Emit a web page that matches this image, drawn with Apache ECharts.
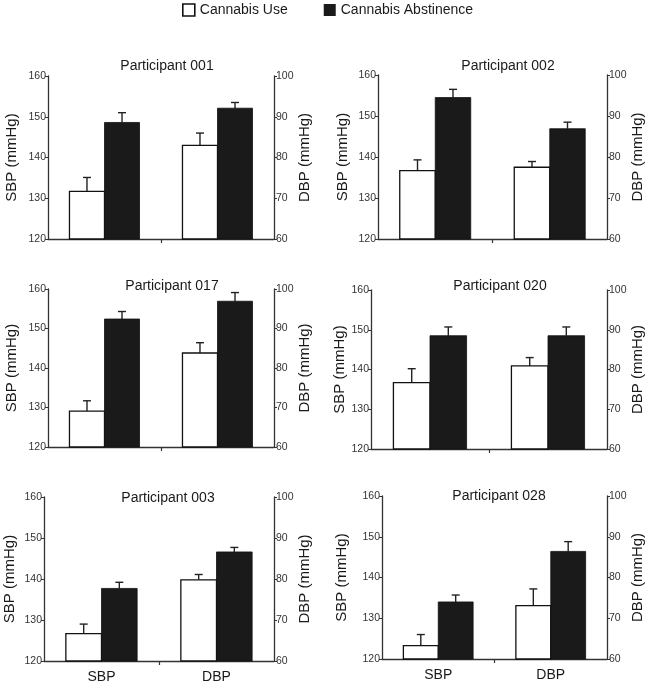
<!DOCTYPE html>
<html>
<head>
<meta charset="utf-8">
<script src="https://cdn.jsdelivr.net/npm/echarts@6/dist/echarts.min.js"></script>
<style>
html,body{margin:0;padding:0;background:#fff;}
#chart{width:647px;height:685px;}
</style>
</head>
<body>
<div id="chart"></div>
<script>
// ---- data ----
const categories = ['SBP', 'DBP'];
const participants = ['Participant 001', 'Participant 002', 'Participant 017', 'Participant 020', 'Participant 003', 'Participant 028'];
const conditions = ['Cannabis Use', 'Cannabis Abstinence'];
const sbpTicks = [120, 160, 10];
const dbpTicks = [60, 100, 10];
// SBP (mmHg), left axis
const useSBP = [131.7, 136.7, 129.1, 136.7, 126.7, 123.3];
const useSBPErr = [3.4, 2.6, 2.6, 3.5, 2.3, 2.7];
const abstSBP = [148.6, 154.5, 152.4, 148.5, 137.7, 134.0];
const abstSBPErr = [2.4, 2.0, 1.9, 2.2, 1.5, 1.7];
// DBP (mmHg), right axis
const useDBP = [83.0, 77.5, 83.8, 80.9, 79.8, 73.1];
const useDBPErr = [3.0, 1.4, 2.6, 2.1, 1.3, 4.1];
const abstDBP = [92.1, 86.9, 96.9, 88.5, 86.6, 86.4];
const abstDBPErr = [1.4, 1.6, 2.2, 2.2, 1.1, 2.4];

// ---- layout (pixels) ----
const grids = [
  {left: 48, top: 76, width: 226, height: 163, title: [162, 62], sbpGap: 29, dbpGap: 22},
  {left: 378, top: 75, width: 229, height: 164, title: [503, 62], sbpGap: 28, dbpGap: 22},
  {left: 48, top: 289, width: 226, height: 158, title: [167, 282], sbpGap: 29, dbpGap: 22},
  {left: 371, top: 290, width: 236, height: 159, title: [495, 282], sbpGap: 24, dbpGap: 21},
  {left: 44, top: 497, width: 230, height: 164, title: [163, 494], sbpGap: 27, dbpGap: 20},
  {left: 382, top: 496, width: 225, height: 163, title: [494, 492], sbpGap: 33, dbpGap: 22}
];
const FONT = '"Liberation Sans", Arial, Helvetica, sans-serif';
const BAR_FRAC = 0.31;
const fills = ['#ffffff', '#1a1a1a'];

function makeRender(slot) {
  return function (params, api) {
    const val = api.value(1);
    const err = api.value(2);
    const band = api.size([1, 0])[0];
    const w = band * BAR_FRAC;
    const pTop = api.coord([api.value(0), val]);
    const pErr = api.coord([api.value(0), val + err]);
    const cs = params.coordSys;
    const bottom = cs.y + cs.height;
    const x0 = slot === 0 ? pTop[0] - w : pTop[0];
    const cx = x0 + w / 2;
    const lineStyle = {stroke: '#222', lineWidth: 1.4};
    return {
      type: 'group',
      children: [
        {type: 'line', shape: {x1: cx, y1: pTop[1], x2: cx, y2: pErr[1]}, style: lineStyle},
        {type: 'line', shape: {x1: cx - 4, y1: pErr[1], x2: cx + 4, y2: pErr[1]}, style: lineStyle},
        {type: 'rect', shape: {x: x0, y: pTop[1], width: w, height: bottom - pTop[1]},
         style: {fill: fills[slot], stroke: '#111', lineWidth: slot === 0 ? 1.3 : 0.8}}
      ]
    };
  };
}

const option = {
  backgroundColor: '#fff',
  animation: false,
  textStyle: {fontFamily: FONT},
  legend: {
    left: 182, top: 3, padding: 0, itemWidth: 12, itemHeight: 12, itemGap: 36,
    icon: 'rect', selectedMode: false,
    textStyle: {fontSize: 14, color: '#1a1a1a', fontFamily: FONT},
    data: [
      {name: conditions[0], itemStyle: {color: '#fff', borderColor: '#111', borderWidth: 1.6}},
      {name: conditions[1], itemStyle: {color: '#1a1a1a', borderColor: '#1a1a1a', borderWidth: 0}}
    ]
  },
  title: [], grid: [], xAxis: [], yAxis: [], series: []
};

grids.forEach(function (g, i) {
  const bottomRow = i >= 4;
  option.title.push({
    text: participants[i], left: g.title[0], top: g.title[1] - 8, textAlign: 'center',
    textStyle: {fontSize: 14, fontWeight: 'normal', color: '#1a1a1a', fontFamily: FONT}
  });
  option.grid.push({left: g.left, top: g.top, width: g.width, height: g.height, containLabel: false});
  option.xAxis.push({
    type: 'category', gridIndex: i, data: categories,
    axisLine: {lineStyle: {color: '#333', width: 1.3}},
    axisTick: {show: false},
    axisLabel: {show: bottomRow, fontSize: 14, color: '#1a1a1a', margin: 9, fontFamily: FONT},
    splitLine: {show: false}
  });
  option.xAxis.push({
    type: 'value', gridIndex: i, min: 0, max: 2, position: 'bottom',
    axisLine: {show: false},
    axisLabel: {show: false},
    axisTick: {show: true, customValues: [1], length: 4, lineStyle: {color: '#333', width: 1.2}},
    splitLine: {show: false}
  });
  const yCommon = {
    type: 'value', gridIndex: i, nameLocation: 'middle', nameRotate: 90,
    nameTextStyle: {fontSize: 15, color: '#1a1a1a', fontFamily: FONT},
    axisLine: {show: true, lineStyle: {color: '#333', width: 1.3}},
    axisTick: {show: true, length: 3, lineStyle: {color: '#333', width: 1}},
    axisLabel: {fontSize: 10.5, color: '#333', margin: 2, fontFamily: FONT},
    splitLine: {show: false}
  };
  option.yAxis.push(Object.assign({}, yCommon, {
    position: 'left', name: 'SBP (mmHg)', nameGap: g.sbpGap,
    min: sbpTicks[0], max: sbpTicks[1], interval: sbpTicks[2]
  }));
  option.yAxis.push(Object.assign({}, yCommon, {
    position: 'right', name: 'DBP (mmHg)', nameGap: g.dbpGap,
    min: dbpTicks[0], max: dbpTicks[1], interval: dbpTicks[2]
  }));
  const xi = i * 2, yS = i * 2, yD = i * 2 + 1;
  const defs = [
    [0, yS, categories[0], useSBP[i], useSBPErr[i]],
    [1, yS, categories[0], abstSBP[i], abstSBPErr[i]],
    [0, yD, categories[1], useDBP[i], useDBPErr[i]],
    [1, yD, categories[1], abstDBP[i], abstDBPErr[i]]
  ];
  defs.forEach(function (d) {
    option.series.push({
      type: 'custom', name: conditions[d[0]],
      xAxisIndex: xi, yAxisIndex: d[1],
      itemStyle: {color: fills[d[0]]},
      encode: {x: 0, y: 1},
      renderItem: makeRender(d[0]),
      data: [[d[2], d[3], d[4]]],
      clip: false
    });
  });
});

const chart = echarts.init(document.getElementById('chart'), null, {renderer: 'canvas'});
chart.setOption(option);
</script>
</body>
</html>
